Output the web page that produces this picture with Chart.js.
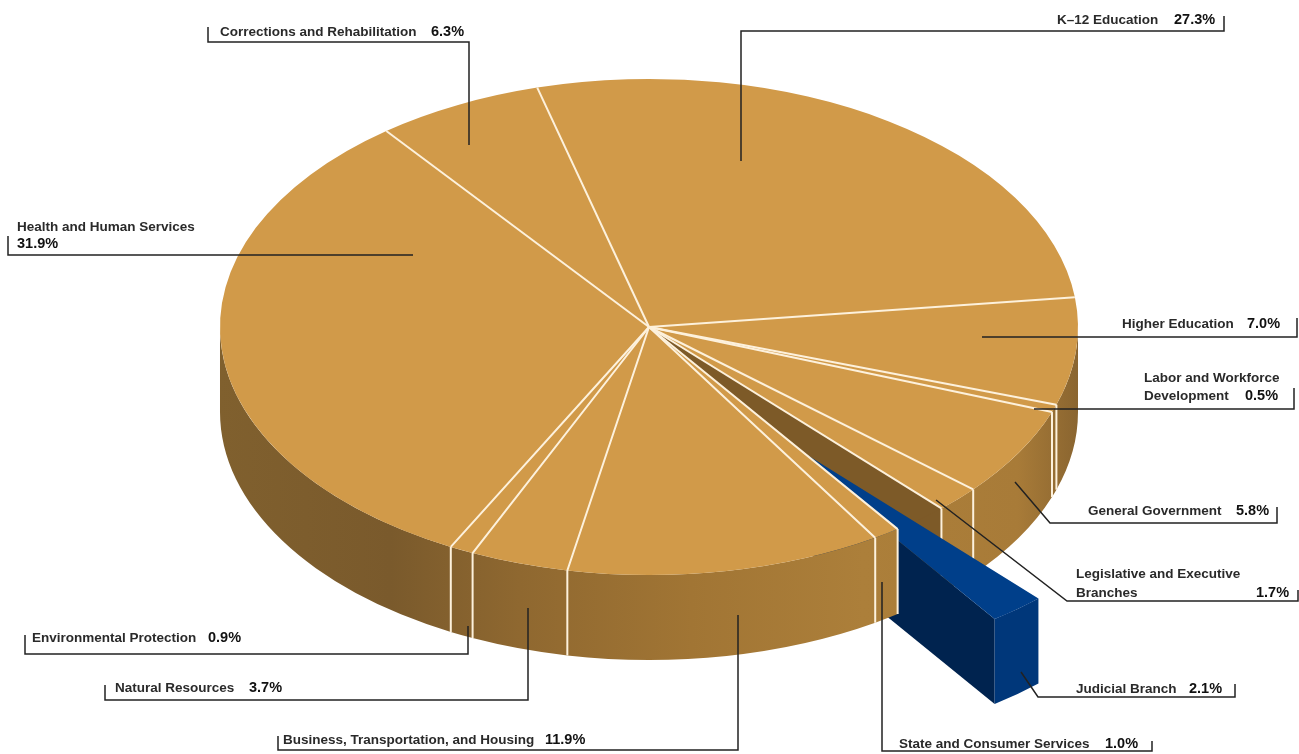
<!DOCTYPE html>
<html>
<head>
<meta charset="utf-8">
<title>Spending pie</title>
<script src="https://cdn.jsdelivr.net/npm/chart.js@4/dist/chart.umd.min.js"></script>
<style>
  html, body { margin: 0; background: #fff; }
  canvas { display: block; }
</style>
</head>
<body>
<canvas id="myChart" width="1299" height="754"></canvas>
<script>
var categories = ['K\u201312 Education', 'Higher Education', 'Labor and Workforce Development', 'General Government', 'Legislative and Executive Branches', 'Judicial Branch', 'State and Consumer Services', 'Business, Transportation, and Housing', 'Natural Resources', 'Environmental Protection', 'Health and Human Services', 'Corrections and Rehabilitation']
var values = [27.3, 7.0, 0.5, 5.8, 1.7, 2.1, 1.0, 11.9, 3.7, 0.9, 31.9, 6.3]

// look of the tilted pie
var gold = '#d19a49', blue = '#003f8a', blueFront = '#00377a', blueSide = '#00234f', holeBrown = '#7d5a28', cream = '#fdf1dc'
var squashX = 429 / 248   // library draws a circle of radius 248, this widens it to the ellipse
var depth = 85
var judicial = categories.indexOf('Judicial Branch')
var shift = { x: 97, y: 90 }

// callouts: label lines, where the value goes, and the leader polyline (pixels)
var callouts = [
    { i: 0, lines: [['K\u201312 Education', 1057, 24]], val: [1174, 24], path: [[1224, 16], [1224, 31], [741, 31], [741, 161]] },
    { i: 1, lines: [['Higher Education', 1122, 328]], val: [1247, 328], path: [[1297, 318], [1297, 337], [982, 337]] },
    { i: 2, lines: [['Labor and Workforce', 1144, 382], ['Development', 1144, 400]], val: [1245, 400], path: [[1294, 388], [1294, 409], [1034, 409]] },
    { i: 3, lines: [['General Government', 1088, 515]], val: [1236, 515], path: [[1277, 507], [1277, 523], [1050, 523], [1015, 482]] },
    { i: 4, lines: [['Legislative and Executive', 1076, 578], ['Branches', 1076, 597]], val: [1256, 597], path: [[1298, 590], [1298, 601], [1067, 601], [936, 500]] },
    { i: 5, lines: [['Judicial Branch', 1076, 693]], val: [1189, 693], path: [[1235, 684], [1235, 697], [1038, 697], [1021, 672]] },
    { i: 6, lines: [['State and Consumer Services', 899, 748]], val: [1105, 748], path: [[1152, 741], [1152, 751], [882, 751], [882, 582]] },
    { i: 7, lines: [['Business, Transportation, and Housing', 283, 744]], val: [545, 744], path: [[278, 736], [278, 750], [738, 750], [738, 615]] },
    { i: 8, lines: [['Natural Resources', 115, 692]], val: [249, 692], path: [[105, 685], [105, 700], [528, 700], [528, 608]] },
    { i: 9, lines: [['Environmental Protection', 32, 642]], val: [208, 642], path: [[25, 635], [25, 654], [468, 654], [468, 626]] },
    { i: 10, lines: [['Health and Human Services', 17, 231]], val: [17, 248], path: [[8, 236], [8, 255], [413, 255]] },
    { i: 11, lines: [['Corrections and Rehabilitation', 220, 36]], val: [431, 36], path: [[208, 27], [208, 42], [469, 42], [469, 145]] }
]

function pixels(chart, fn) {
    var ctx = chart.ctx, r = chart.currentDevicePixelRatio
    ctx.save()
    ctx.setTransform(r, 0, 0, r, 0, 0)
    fn(ctx)
    ctx.restore()
}

function wallGradient(ctx) {
    var g = ctx.createLinearGradient(219, 0, 1078, 0)
    g.addColorStop(0, '#80602e')
    g.addColorStop(0.2, '#7a5a2c')
    g.addColorStop(0.35, '#8f6830')
    g.addColorStop(0.55, '#a17534')
    g.addColorStop(0.75, '#ac7f3a')
    g.addColorStop(0.93, '#a87b38')
    g.addColorStop(1, '#8a6530')
    return g
}

function drawWall(ctx, arc) {
    var a = Math.max(arc.startAngle, 0), b = Math.min(arc.endAngle, Math.PI)
    if (b <= a) return
    var rx = arc.outerRadius * squashX, ry = arc.outerRadius
    ctx.beginPath()
    ctx.ellipse(arc.x, arc.y, rx, ry, 0, a, b)
    ctx.ellipse(arc.x, arc.y + depth, rx, ry, 0, b, a, true)
    ctx.closePath()
    ctx.fillStyle = wallGradient(ctx)
    ctx.fill()
}

function rim(arc, angle) {
    return [arc.x + Math.cos(angle) * arc.outerRadius * squashX, arc.y + Math.sin(angle) * arc.outerRadius]
}

function creamEdge(ctx, arc, angle, withRadial, withWall) {
    var p = rim(arc, angle)
    ctx.strokeStyle = cream
    ctx.lineWidth = 2
    ctx.beginPath()
    if (withRadial) {
        ctx.moveTo(arc.x, arc.y)
        ctx.lineTo(p[0], p[1])
    }
    if (withWall && angle > 0 && angle < Math.PI) {
        ctx.moveTo(p[0], p[1])
        ctx.lineTo(p[0], p[1] + depth)
    }
    ctx.stroke()
}

// hole left behind, then the pulled out wedge with its two visible faces
function drawJudicial(chart, arc, original, ctx2, area) {
    var arcs = chart.getDatasetMeta(0).data
    pixels(chart, function(ctx) {
        var a = arc.startAngle, b = arc.endAngle
        var rx = arc.outerRadius * squashX, ry = arc.outerRadius
        var pa = rim(arc, a), pb = rim(arc, b)
        ctx.fillStyle = holeBrown
        ctx.beginPath()
        ctx.moveTo(arc.x, arc.y)
        ctx.lineTo(pa[0], pa[1])
        ctx.lineTo(pa[0], pa[1] + depth)
        ctx.lineTo(arc.x, arc.y + depth)
        ctx.closePath()
        ctx.fill()
        ctx.beginPath()
        ctx.moveTo(arc.x, arc.y)
        ctx.ellipse(arc.x, arc.y, rx, ry, 0, a, b)
        ctx.closePath()
        ctx.fill()
        arcs.forEach(function(other, i) {
            if (i <= judicial) creamEdge(ctx, other, other.startAngle, false, true)
        })

        ctx.fillStyle = blueSide
        ctx.beginPath()
        ctx.moveTo(arc.x + shift.x, arc.y + shift.y)
        ctx.lineTo(pb[0] + shift.x, pb[1] + shift.y)
        ctx.lineTo(pb[0] + shift.x, pb[1] + shift.y + depth)
        ctx.lineTo(arc.x + shift.x, arc.y + shift.y + depth)
        ctx.closePath()
        ctx.fill()

        ctx.fillStyle = blueFront
        ctx.beginPath()
        ctx.ellipse(arc.x + shift.x, arc.y + shift.y, rx, ry, 0, a, b)
        ctx.ellipse(arc.x + shift.x, arc.y + shift.y + depth, rx, ry, 0, b, a, true)
        ctx.closePath()
        ctx.fill()
    })
    ctx2.save()
    ctx2.translate(shift.x / squashX, shift.y)
    original.call(arc, ctx2, area)
    ctx2.restore()
    // walls in front of the wedge go on after it
    pixels(chart, function(ctx) {
        arcs.forEach(function(other, i) {
            if (i > judicial) drawWall(ctx, other)
        })
    })
}

var tiltedPie = {
    id: 'tiltedPie',
    beforeDatasetsDraw: function(chart) {
        var arcs = chart.getDatasetMeta(0).data
        pixels(chart, function(ctx) {
            arcs.forEach(function(arc, i) {
                if (i < judicial) drawWall(ctx, arc)
            })
        })
        var j = arcs[judicial]
        if (!j.wrapped) {
            var original = j.draw
            j.draw = function(c, area) { drawJudicial(chart, j, original, c, area) }
            j.wrapped = true
        }
        var ctx = chart.ctx, cx = arcs[0].x, cy = arcs[0].y
        ctx.save()
        ctx.translate(cx, cy)
        ctx.scale(squashX, 1)
        ctx.translate(-cx, -cy)
    },
    afterDatasetsDraw: function(chart) {
        chart.ctx.restore()
        var arcs = chart.getDatasetMeta(0).data
        pixels(chart, function(ctx) {
            arcs.forEach(function(arc, i) {
                creamEdge(ctx, arc, arc.startAngle, true, i > judicial)
            })
            callouts.forEach(function(c) {
                ctx.strokeStyle = '#222'
                ctx.lineWidth = 1.5
                ctx.beginPath()
                c.path.forEach(function(p, k) {
                    if (k == 0) ctx.moveTo(p[0], p[1])
                    else ctx.lineTo(p[0], p[1])
                })
                ctx.stroke()
                ctx.textAlign = 'left'
                ctx.textBaseline = 'alphabetic'
                ctx.fillStyle = '#2a2a2a'
                ctx.font = 'bold 13.5px "Liberation Sans"'
                c.lines.forEach(function(l) { ctx.fillText(l[0], l[1], l[2]) })
                ctx.fillStyle = '#111'
                ctx.font = 'bold 14.5px "Liberation Sans"'
                ctx.fillText(values[c.i].toFixed(1) + '%', c.val[0], c.val[1])
            })
        })
    }
}

var chart = new Chart(document.getElementById('myChart'), {
    type: 'pie',
    data: {
        labels: categories,
        datasets: [{
            data: values,
            clip: false,
            borderWidth: 0,
            backgroundColor: categories.map(function(c, i) { return i == judicial ? blue : gold })
        }]
    },
    options: {
        responsive: false,
        animation: false,
        rotation: -15.1,
        layout: { padding: { top: 79, bottom: 179, left: 0, right: 1 } },
        plugins: { legend: { display: false }, tooltip: { enabled: false } }
    },
    plugins: [tiltedPie]
})
</script>
</body>
</html>
